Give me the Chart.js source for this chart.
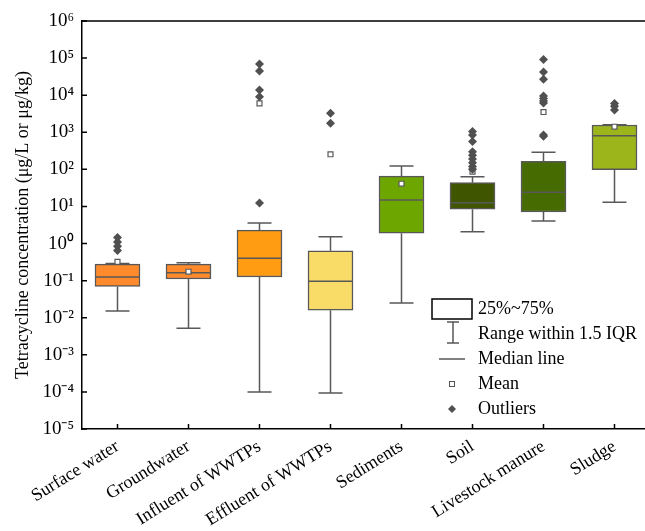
<!DOCTYPE html>
<html><head><meta charset="utf-8">
<script src="https://cdn.jsdelivr.net/npm/chart.js@4"></script>
<style>html,body{margin:0;padding:0;overflow:hidden;background:#fff}#wrap{width:660px;height:531px}</style>
</head><body><div id="wrap"><canvas id="c" width="660" height="531"></canvas></div>
<script>
const categories = ['Surface water','Groundwater','Influent of WWTPs','Effluent of WWTPs','Sediments','Soil','Livestock manure','Sludge'];
const q1 = [0.0695, 0.111, 0.125, 0.016, 1.89, 8.4, 7.1, 98];
const q3 = [0.28, 0.28, 2.3, 0.64, 66, 43.7, 165, 1570];
const medians = [0.125, 0.164, 0.40, 0.096, 14.9, 12.6, 24, 809];
const whiskerLow = [0.0152, 0.0052, 0.0001, 0.000093, 0.025, 2.08, 4.05, 12.9];
const whiskerHigh = [0.29, 0.304, 3.6, 1.53, 123, 63, 288, 1600];
const means = [0.32, 0.174, 6040, 255, 41, 86.5, 3520, 1412];
const outliers = [
  [1.45, 1.1, 0.85, 0.65],
  [],
  [69000, 44900, 13800, 9100, 12.4],
  [3250, 1745],
  [],
  [1050, 850, 560, 300, 240, 190, 150, 120, 100],
  [92000, 42000, 27000, 9500, 8200, 7000, 6200, 850, 780],
  [6000, 5000, 4000]
];
const boxColors = ['#FF8A2B','#FF8A2B','#FF9C12','#F9DB68','#6EA600','#405500','#466B00','#9BB51B'];
const yTicks = [1e-5,1e-4,1e-3,1e-2,1e-1,1,10,100,1e3,1e4,1e5,1e6];
const yTickLabels = ['10⁻⁵','10⁻⁴','10⁻³','10⁻²','10⁻¹','10⁰','10¹','10²','10³','10⁴','10⁵','10⁶'];
const yTitle = 'Tetracycline concentration (μg/L or μg/kg)';
const legendLabels = ['25%~75%','Range within 1.5 IQR','Median line','Mean','Outliers'];

const FONT = '"Liberation Serif", "Times New Roman", serif';
const GREY = '#585858';

const outlierPoints = [];
outliers.forEach((arr,i)=>arr.forEach(v=>outlierPoints.push({x:categories[i], y:v})));
const meanPoints = means.map((v,i)=>({x:categories[i], y:v}));

const boxPlugin = {
  id: 'boxExtras',
  beforeDatasetsDraw(chart) {
    const {ctx, scales:{x,y}} = chart;
    ctx.save();
    ctx.strokeStyle = GREY; ctx.lineWidth = 1.5;
    categories.forEach((c,i)=>{
      const px = x.getPixelForValue(i);
      const cap = 12;
      const yl = y.getPixelForValue(whiskerLow[i]);
      const yq1 = y.getPixelForValue(q1[i]);
      const yq3 = y.getPixelForValue(q3[i]);
      const yh = y.getPixelForValue(whiskerHigh[i]);
      ctx.beginPath();
      ctx.moveTo(px,yl); ctx.lineTo(px,yq1);
      ctx.moveTo(px,yq3); ctx.lineTo(px,yh);
      ctx.moveTo(px-cap,yl); ctx.lineTo(px+cap,yl);
      ctx.moveTo(px-cap,yh); ctx.lineTo(px+cap,yh);
      ctx.stroke();
    });
    ctx.restore();
  },
  afterDatasetDraw(chart, args) {
    if (args.index !== 0) return;
    const {ctx, scales:{y}} = chart;
    const meta = chart.getDatasetMeta(0);
    ctx.save();
    ctx.strokeStyle = GREY; ctx.lineWidth = 1.5;
    meta.data.forEach((bar,i)=>{
      const w = bar.width/2;
      const py = y.getPixelForValue(medians[i]);
      ctx.beginPath(); ctx.moveTo(bar.x-w,py); ctx.lineTo(bar.x+w,py); ctx.stroke();
    });
    ctx.restore();
  },
  afterDraw(chart) {
    const {ctx, chartArea:a, scales:{x,y}} = chart;
    ctx.save();
    ctx.strokeStyle = '#000'; ctx.lineWidth = 1.5;
    ctx.beginPath();
    ctx.moveTo(a.left, a.top); ctx.lineTo(a.right, a.top); ctx.lineTo(a.right, a.bottom);
    ctx.stroke();
    ctx.beginPath();
    yTicks.forEach(v=>{ const py = y.getPixelForValue(v); ctx.moveTo(a.left, py); ctx.lineTo(a.left+5, py); });
    categories.forEach((c,i)=>{ const px = x.getPixelForValue(i); ctx.moveTo(px, a.bottom); ctx.lineTo(px, a.bottom-5); });
    ctx.stroke();
    // legend
    ctx.lineWidth = 1.5; ctx.strokeStyle = '#000';
    ctx.strokeRect(432, 299, 40, 20);
    ctx.strokeStyle = GREY;
    ctx.beginPath();
    ctx.moveTo(453,322); ctx.lineTo(453,343);
    ctx.moveTo(447,322); ctx.lineTo(459,322);
    ctx.moveTo(447,343); ctx.lineTo(459,343);
    ctx.moveTo(439,359); ctx.lineTo(465,359);
    ctx.stroke();
    ctx.lineWidth = 1;
    ctx.fillStyle = '#fff';
    ctx.fillRect(449.5,381.5,5,5); ctx.strokeRect(449.5,381.5,5,5);
    ctx.fillStyle = '#505050';
    ctx.beginPath(); ctx.moveTo(452,405); ctx.lineTo(456,409); ctx.lineTo(452,413); ctx.lineTo(448,409); ctx.closePath(); ctx.fill();
    ctx.fillStyle = '#000';
    ctx.font = '18px ' + FONT;
    ctx.textBaseline = 'middle'; ctx.textAlign = 'left';
    const ly = [309, 334, 359, 384, 409];
    legendLabels.forEach((t,i)=>ctx.fillText(t, 478, ly[i]));
    ctx.restore();
  }
};

new Chart(document.getElementById('c'), {
  type: 'bar',
  data: {
    labels: categories,
    datasets: [
      { type:'bar', data: q1.map((v,i)=>[v,q3[i]]), backgroundColor: boxColors, borderColor: GREY, borderWidth: 1.5, borderSkipped: false, barThickness: 45, order: 2 },
      { type:'scatter', data: meanPoints, pointStyle:'rect', radius: 3.5, backgroundColor:'#fff', borderColor: GREY, borderWidth: 1.2, order: 1 },
      { type:'scatter', data: outlierPoints, pointStyle:'rectRot', radius: 4.5, backgroundColor:'#505050', borderColor:'#505050', borderWidth: 0, order: 0 }
    ]
  },
  options: {
    responsive: false,
    animation: false,
    devicePixelRatio: 1,
    layout: { padding: { top: 21, right: 10, left: 0, bottom: 0 } },
    plugins: { legend: { display: false }, tooltip: { enabled: false } },
    scales: {
      x: {
        type: 'category', offset: true,
        grid: { display: false, drawTicks: false },
        border: { display: true, color: '#000', width: 1.5 },
        ticks: { color: '#000', font: { family: FONT, size: 18 }, minRotation: 32, maxRotation: 32, padding: 7, autoSkip: false },
        afterFit: s => { s.height = 102; }
      },
      y: {
        type: 'logarithmic', min: 1e-5, max: 1e6,
        grid: { display: false, drawTicks: false },
        border: { display: true, color: '#000', width: 1.5 },
        afterBuildTicks: s => { s.ticks = yTicks.map(v=>({value:v})); },
        ticks: { color: '#000', font: { family: FONT, size: 19 }, padding: 8, callback: (v) => { const i = yTicks.findIndex(t=>Math.abs(Math.log10(t)-Math.log10(v))<1e-6); return i>=0 ? yTickLabels[i] : ''; } },
        title: { display: true, text: yTitle, color: '#000', font: { family: FONT, size: 18 }, padding: { top: 12, bottom: 0 } },
        afterFit: s => { s.width = 82; }
      }
    }
  },
  plugins: [boxPlugin]
});
</script></body></html>
